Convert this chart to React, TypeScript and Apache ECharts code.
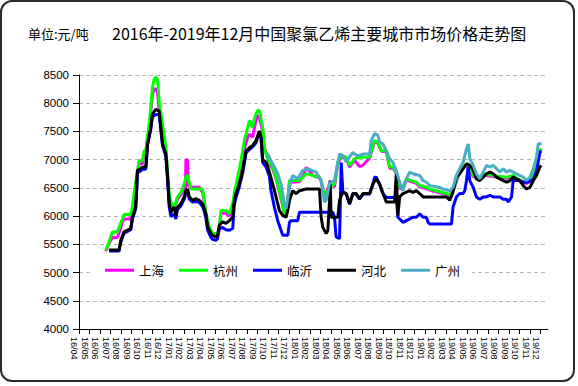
import React, { useEffect, useRef } from "react";
import * as echarts from "echarts";

const monthLabels = [
  "16/04", "16/05", "16/06", "16/07", "16/08", "16/09", "16/10", "16/11", "16/12",
  "17/01", "17/02", "17/03", "17/04", "17/05", "17/06", "17/07", "17/08", "17/09", "17/10", "17/11", "17/12",
  "18/01", "18/02", "18/03", "18/04", "18/05", "18/06", "18/07", "18/08", "18/09", "18/10", "18/11", "18/12",
  "19/01", "19/02", "19/03", "19/04", "19/05", "19/06", "19/07", "19/08", "19/09", "19/10", "19/11", "19/12",
];

const seriesNames = ["上海", "杭州", "临沂", "河北", "广州"];
const seriesColors = ["#FF00FF", "#00FF00", "#0000FF", "#000000", "#4BACC6"];

// [month index since 16/04, price]
const shanghai: [number, number][] = [
  [2.55, 5380], [2.87, 5520], [3.18, 5620], [3.66, 5620], [3.82, 5700], [4.14, 5900], [4.3, 5950], [4.93, 5950],
  [5.09, 6100], [5.25, 6350], [5.57, 6760], [5.73, 6930], [6.05, 6930], [6.21, 7100], [6.37, 7100], [6.53, 7340],
  [6.69, 7560], [6.84, 7850], [7.0, 8150], [7.16, 8250], [7.32, 8250], [7.48, 8200], [7.64, 7900], [7.96, 7540],
  [8.28, 7150], [8.44, 6700], [8.6, 6300], [8.76, 6200], [9.07, 6150], [9.39, 6300], [9.71, 6380], [10.03, 6480],
  [10.14, 6480], [10.19, 7000], [10.35, 7000], [10.4, 6550], [10.51, 6520], [10.83, 6510], [11.46, 6510], [11.78, 6420],
  [11.94, 6250], [12.1, 6000], [12.42, 5780], [12.73, 5660], [13.21, 5660], [13.37, 5780], [13.53, 6050], [14.01, 6050],
  [14.33, 6000], [14.65, 6180], [14.8, 6350], [15.12, 6630], [15.44, 6920], [15.76, 7200], [16.08, 7400], [16.24, 7450],
  [16.55, 7400], [16.71, 7550], [16.87, 7700], [17.03, 7780], [17.19, 7750], [17.51, 7500], [17.67, 7200], [17.83, 7130],
  [18.15, 6920], [18.46, 6840], [18.78, 6660], [19.1, 6420], [19.42, 6180], [19.58, 6020], [19.74, 6060], [19.9, 6280],
  [20.06, 6600], [21.01, 6610], [21.33, 6700], [21.65, 6860], [21.97, 6800], [22.28, 6720], [22.92, 6680], [23.08, 6620],
  [23.4, 6330], [23.88, 6570], [24.35, 6520], [24.67, 6930], [24.99, 7050], [25.47, 7020], [25.79, 6870], [26.26, 6990],
  [26.74, 6880], [27.06, 6900], [27.7, 7030], [28.17, 7320], [28.49, 7290], [28.81, 7150], [29.29, 7140], [29.61, 6850],
  [29.92, 6850], [30.24, 6760], [30.56, 6490], [30.88, 6490], [31.2, 6640], [32.15, 6580], [32.47, 6520], [33.11, 6490],
  [33.43, 6460], [35.02, 6380], [35.34, 6350], [35.81, 6520], [36.29, 6790], [36.77, 6880], [37.09, 6910], [37.57, 6700],
  [38.2, 6670], [38.52, 6730], [39.48, 6700], [40.75, 6670], [41.39, 6700], [42.02, 6610], [42.66, 6580], [42.98, 6610],
  [43.3, 6700], [43.61, 6930], [43.93, 7140], [44.05, 7180],
];

const hangzhou: [number, number][] = [
  [2.55, 5400], [2.87, 5540], [3.18, 5720], [3.66, 5720], [3.82, 5800], [4.14, 5950], [4.3, 6030], [4.93, 6030],
  [5.09, 6160], [5.25, 6400], [5.57, 6810], [5.73, 6980], [6.05, 6980], [6.21, 7160], [6.37, 7160], [6.53, 7420],
  [6.69, 7630], [6.84, 7920], [7.0, 8280], [7.16, 8420], [7.32, 8460], [7.48, 8420], [7.64, 8040], [7.96, 7630],
  [8.28, 7220], [8.44, 6810], [8.6, 6400], [8.76, 6250], [9.07, 6160], [9.39, 6340], [9.71, 6420], [10.03, 6570],
  [10.19, 6690], [10.35, 6720], [10.51, 6600], [10.67, 6480], [11.78, 6480], [11.94, 6280], [12.1, 6040], [12.42, 5810],
  [12.73, 5690], [13.21, 5690], [13.37, 5810], [13.53, 6100], [14.01, 6100], [14.33, 6040], [14.65, 6220], [14.8, 6400],
  [15.12, 6690], [15.44, 6980], [15.76, 7340], [16.08, 7570], [16.24, 7690], [16.55, 7570], [16.71, 7720], [16.87, 7810],
  [17.03, 7870], [17.19, 7870], [17.51, 7570], [17.67, 7220], [17.83, 7100], [18.15, 6950], [18.46, 6870], [18.78, 6690],
  [19.1, 6450], [19.42, 6200], [19.58, 6040], [19.74, 6080], [19.9, 6300], [20.06, 6630], [21.01, 6630], [21.33, 6690],
  [21.65, 6750], [22.28, 6720], [22.92, 6690], [23.08, 6630], [23.4, 6340], [23.88, 6510], [24.35, 6570], [24.67, 6955],
  [24.99, 7075], [25.47, 7045], [25.79, 6900], [26.26, 7015], [26.74, 7045], [27.7, 7045], [28.17, 7340], [28.49, 7310],
  [28.81, 7160], [29.29, 7160], [29.61, 6870], [29.92, 6870], [30.24, 6780], [30.56, 6510], [30.88, 6510], [31.2, 6660],
  [32.15, 6600], [32.47, 6540], [33.11, 6510], [33.43, 6480], [35.02, 6400], [35.34, 6370], [35.81, 6540], [36.29, 6810],
  [36.77, 6900], [37.09, 6930], [37.57, 6720], [38.2, 6690], [38.52, 6750], [39.48, 6720], [40.75, 6690], [41.39, 6720],
  [42.02, 6630], [42.66, 6600], [42.98, 6630], [43.3, 6720], [43.61, 6955], [43.93, 7160], [44.05, 7200],
];

const linyi: [number, number][] = [
  [2.87, 5380], [3.82, 5380], [3.98, 5540], [4.3, 5700], [4.93, 5760], [5.09, 5950], [5.41, 6130], [5.57, 6760],
  [6.05, 6830], [6.37, 6830], [6.53, 7250], [6.84, 7540], [7.0, 7760], [7.32, 7800], [7.64, 7800], [7.8, 7520],
  [7.96, 7250], [8.28, 7060], [8.44, 6650], [8.6, 6160], [8.76, 5990], [9.07, 6040], [9.23, 5950], [9.39, 6120],
  [9.71, 6180], [10.03, 6300], [10.19, 6400], [10.35, 6440], [10.51, 6300], [10.83, 6250], [11.14, 6260], [11.46, 6240],
  [11.78, 6170], [11.94, 6080], [12.1, 5960], [12.26, 5750], [12.58, 5620], [12.73, 5590], [13.05, 5570], [13.21, 5600],
  [13.37, 5780], [13.69, 5800], [14.01, 5760], [14.33, 5750], [14.65, 5780], [14.8, 6200], [14.96, 6330], [15.28, 6520],
  [15.6, 6760], [15.92, 7120], [16.24, 7180], [16.55, 7230], [16.87, 7300], [17.19, 7480], [17.35, 7380], [17.51, 6950],
  [17.83, 6870], [18.15, 6700], [18.3, 6450], [18.62, 6160], [18.94, 5920], [19.26, 5745], [19.42, 5660], [19.9, 5660],
  [20.06, 5890], [20.21, 5920], [20.85, 5920], [21.01, 6070], [24.19, 6070], [24.35, 5980], [24.51, 5630], [24.83, 5600],
  [24.9, 6160], [24.99, 6950], [25.15, 6420], [25.47, 6390], [25.79, 6210], [26.1, 6390], [26.42, 6390], [26.74, 6300],
  [27.06, 6390], [27.7, 6390], [28.01, 6560], [28.17, 6690], [28.33, 6690], [28.65, 6560], [28.97, 6400], [29.29, 6330],
  [30.08, 6330], [30.24, 6300], [30.4, 5980], [30.88, 5890], [31.2, 5920], [31.52, 5950], [31.83, 5980], [32.15, 5980],
  [32.47, 6040], [32.79, 5980], [33.11, 5980], [33.27, 5890], [33.43, 5860], [35.5, 5860], [35.65, 6160], [35.97, 6340],
  [36.29, 6400], [36.61, 6400], [36.77, 6450], [36.93, 6630], [37.09, 6870], [37.25, 6630], [37.57, 6510], [37.88, 6340],
  [38.2, 6300], [38.52, 6340], [38.84, 6340], [39.16, 6370], [39.48, 6340], [40.11, 6340], [40.43, 6300], [40.75, 6300],
  [40.91, 6250], [41.23, 6340], [41.39, 6660], [41.7, 6630], [42.02, 6630], [42.34, 6600], [42.66, 6600], [42.98, 6620],
  [43.3, 6650], [43.61, 6800], [43.93, 7130], [44.05, 7150],
];

const hebei: [number, number][] = [
  [2.87, 5400], [3.82, 5400], [3.98, 5570], [4.3, 5720], [4.93, 5780], [5.09, 5980], [5.41, 6160], [5.57, 6810],
  [6.05, 6870], [6.37, 6870], [6.53, 7280], [6.84, 7570], [7.0, 7810], [7.32, 7890], [7.64, 7860], [7.8, 7570],
  [7.96, 7280], [8.28, 7100], [8.44, 6690], [8.6, 6220], [8.76, 6070], [9.07, 6160], [9.23, 6010], [9.39, 6160],
  [9.71, 6220], [10.03, 6340], [10.19, 6450], [10.35, 6480], [10.51, 6340], [10.83, 6280], [11.14, 6310], [11.46, 6280],
  [11.78, 6220], [11.94, 6130], [12.1, 6040], [12.26, 5810], [12.58, 5690], [12.73, 5660], [13.05, 5630], [13.21, 5660],
  [13.37, 5840], [13.69, 5900], [14.01, 5870], [14.33, 5920], [14.65, 5980], [14.8, 6280], [14.96, 6400], [15.28, 6570],
  [15.6, 6810], [15.92, 7160], [16.24, 7210], [16.55, 7250], [16.87, 7340], [17.19, 7510], [17.35, 7400], [17.51, 6980],
  [17.67, 6980], [17.83, 6955], [18.15, 6780], [18.46, 6570], [18.78, 6340], [19.1, 6100], [19.42, 6010], [19.74, 5980],
  [19.9, 6100], [20.06, 6280], [20.37, 6450], [20.69, 6400], [21.01, 6450], [21.65, 6480], [22.92, 6480], [23.08, 5980],
  [23.24, 5800], [23.56, 5690], [23.72, 5750], [23.88, 6280], [23.94, 6630], [24.03, 5980], [24.67, 5980], [24.83, 6280],
  [25.15, 6430], [25.47, 6400], [25.79, 6220], [26.1, 6400], [26.42, 6400], [26.74, 6310], [27.06, 6400], [27.7, 6400],
  [28.01, 6570], [28.33, 6660], [28.65, 6570], [28.97, 6400], [29.29, 6250], [30.08, 6250], [30.24, 6750], [30.4, 6010],
  [30.56, 6340], [30.88, 6400], [31.52, 6450], [31.83, 6420], [32.15, 6450], [32.47, 6400], [32.79, 6340], [35.02, 6340],
  [35.34, 6280], [35.65, 6430], [35.97, 6690], [36.29, 6750], [36.61, 6840], [36.93, 6925], [37.25, 6900], [37.57, 6810],
  [37.88, 6660], [38.2, 6630], [38.52, 6690], [38.84, 6750], [39.16, 6780], [39.48, 6750], [39.8, 6690], [40.11, 6660],
  [40.43, 6630], [40.75, 6600], [41.07, 6630], [41.39, 6690], [41.7, 6660], [42.02, 6630], [42.34, 6540], [42.66, 6480],
  [42.98, 6510], [43.3, 6630], [43.61, 6720], [43.93, 6870], [44.05, 6900],
];

const guangzhou: [number, number][] = [
  [17.98, 7100], [18.3, 6980], [18.62, 6870], [18.94, 6750], [19.26, 6560], [19.42, 6400], [19.58, 6200], [19.74, 6130],
  [19.9, 6300], [20.06, 6510], [20.21, 6630], [20.37, 6720], [20.85, 6660], [21.33, 6810], [21.81, 6840], [22.6, 6780],
  [23.08, 6630], [23.24, 6420], [23.4, 6250], [23.56, 6280], [23.88, 6570], [24.03, 6600], [24.35, 6630], [24.67, 6955],
  [24.83, 7100], [25.15, 7075], [25.47, 6955], [25.79, 7050], [26.1, 7130], [26.42, 7075], [26.74, 7075], [27.06, 7100],
  [27.7, 7100], [27.86, 7340], [28.17, 7460], [28.49, 7430], [28.65, 7310], [28.97, 7280], [29.29, 7160], [29.61, 7015],
  [29.92, 6955], [30.24, 6810], [30.56, 6600], [30.88, 6450], [31.2, 6660], [31.52, 6780], [31.83, 6750], [32.47, 6720],
  [32.79, 6630], [33.11, 6600], [33.43, 6540], [34.38, 6510], [34.7, 6480], [35.34, 6450], [35.65, 6510], [35.97, 6720],
  [36.29, 6840], [36.61, 6955], [36.93, 7190], [37.09, 7280], [37.25, 7015], [37.57, 6900], [37.88, 6750], [38.2, 6660],
  [38.52, 6780], [38.84, 6900], [39.16, 6870], [39.48, 6900], [39.8, 6840], [40.11, 6780], [40.43, 6840], [40.75, 6780],
  [41.07, 6810], [41.39, 6780], [41.7, 6750], [42.02, 6720], [42.34, 6690], [42.66, 6630], [42.98, 6690], [43.3, 6840],
  [43.61, 7045], [43.77, 7280], [44.09, 7280],
];

const seriesData = [shanghai, hangzhou, linyi, hebei, guangzhou];

const unitText = "单位:元/吨";
const titleText = "2016年-2019年12月中国聚氯乙烯主要城市市场价格走势图";

export default function App() {
  const ref = useRef<HTMLDivElement>(null);

  useEffect(() => {
    document.body.style.margin = "0";
    const chart = echarts.init(ref.current!, null, { renderer: "svg" });
    const tickIdx = monthLabels.map((_, i) => i);
    chart.setOption({
      animation: false,
      backgroundColor: "#ffffff",
      textStyle: { fontFamily: "'Liberation Sans', 'Noto Sans CJK SC', sans-serif", color: "#000" },
      title: [
        {
          text: unitText,
          left: 28,
          top: 27,
          padding: 0,
          textStyle: { fontSize: 13, fontWeight: "normal", color: "#000", fontFamily: "'Noto Sans CJK SC', sans-serif" },
        },
        {
          text: titleText,
          left: 112,
          top: 25,
          padding: 0,
          textStyle: { fontSize: 16, fontWeight: "normal", color: "#000", fontFamily: "'Noto Sans CJK SC', sans-serif" },
        },
      ],
      graphic: [
        {
          type: "rect",
          shape: { x: 1, y: 1, width: 573, height: 380, r: 11 },
          style: { fill: "none", stroke: "#2a2a2a", lineWidth: 2 },
          silent: true,
          z: 100,
        },
      ],
      legend: {
        data: seriesNames,
        left: 90,
        top: 262,
        padding: [2, 12, 2, 15],
        backgroundColor: "#ffffff",
        itemWidth: 29,
        itemHeight: 3,
        itemGap: 15,
        icon: "rect",
        textStyle: { fontSize: 12.5, color: "#000", fontFamily: "'Noto Sans CJK SC', sans-serif" },
      },
      grid: { left: 79, right: 30, top: 75, bottom: 57, containLabel: false },
      xAxis: {
        type: "value",
        min: 0,
        max: 44.7,
        interval: 1,
        axisLine: { show: true, lineStyle: { color: "#000", width: 1 } },
        axisTick: { show: true, length: 5, lineStyle: { color: "#000" }, customValues: tickIdx },
        splitLine: { show: false },
        axisLabel: {
          customValues: tickIdx,
          rotate: -90,
          fontSize: 9,
          margin: 8,
          color: "#000",
          verticalAlign: "top",
          formatter: (v: number) => monthLabels[Math.round(v)] ?? "",
        },
      },
      yAxis: {
        type: "value",
        min: 4000,
        max: 8500,
        interval: 500,
        axisLine: { show: true, lineStyle: { color: "#000", width: 1 } },
        axisTick: { show: true, length: 6, lineStyle: { color: "#000" } },
        axisLabel: { fontSize: 11.5, color: "#000", margin: 10, formatter: (v: number) => String(v) },
        splitLine: { show: true, lineStyle: { color: "#b4b4b4", type: [4, 3], width: 1 } },
      },
      series: seriesNames.map((name, i) => ({
        name,
        type: "line",
        data: seriesData[i],
        showSymbol: false,
        symbol: "none",
        color: seriesColors[i],
        lineStyle: { width: 3, color: seriesColors[i] },
        z: 2 + i,
      })),
    });
    return () => chart.dispose();
  }, []);

  return (
    <div
      ref={ref}
      style={{ position: "absolute", left: 0, top: 0, width: 578, height: 386 }}
    />
  );
}
